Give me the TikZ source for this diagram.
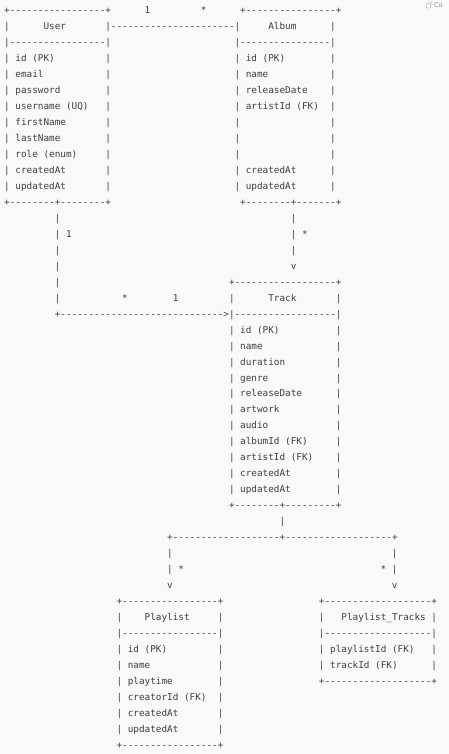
\documentclass[tikz,border=0pt]{standalone}
\usepackage{fontspec}
\setmonofont{DejaVu Sans Mono}
\setsansfont{DejaVu Sans}
\definecolor{ink}{HTML}{3E3E3E}
\definecolor{paper}{HTML}{F9F9F9}
\definecolor{faint}{HTML}{8A8A8A}

% a run of n hyphens
\ExplSyntaxOn
\cs_new:Npn \dashrun #1 { \prg_replicate:nn {#1} {-} }
\ExplSyntaxOff

% character grid: cell width and line height (pt)
\newcommand\cw{5.62}
\newcommand\lh{15.97}
% \at{row}{column}{text}
\newcommand\at[3]{\node[chars] (t#1-#2) at ({4.2+#2*\cw},{13.7+#1*\lh}) {#3};}

\begin{document}
\begin{tikzpicture}[x=1pt,y=-1pt,
  chars/.style={inner sep=0pt, outer sep=0pt, anchor=base west,
    font=\ttfamily\fontsize{9.34}{11}\selectfont, text=ink}]
\fill[paper] (0,0) rectangle (449,754);
\useasboundingbox (0,0) rectangle (449,754);

% copy button in the corner
\node[inner sep=0pt, anchor=west, text=faint,
  font=\sffamily\fontsize{6.5}{7}\selectfont] (copy) at (434,5.5) {Co};
\draw[faint, line width=0.4pt, rounded corners=0.6pt] (426.5,3.5) rectangle (430.5,8);
\draw[faint, line width=0.4pt, rounded corners=0.6pt] (428,2) -- (432,2) -- (432,6.5);

% ---- User and Album ----
\at{0}{0}{+\dashrun{17}+}
\at{0}{25}{1}
\at{0}{35}{*}
\at{0}{42}{+\dashrun{16}+}
\at{1}{0}{|}
\at{1}{7}{User}
\at{1}{18}{|\dashrun{22}|}
\at{1}{47}{Album}
\at{1}{58}{|}
\at{2}{0}{|\dashrun{17}|}
\at{2}{41}{|\dashrun{16}|}
\foreach \r/\u/\a in {3/{id (PK)}/{id (PK)}, 4/email/name, 5/password/releaseDate,
    6/{username (UQ)}/{artistId (FK)}, 7/firstName/{}, 8/lastName/{},
    9/{role (enum)}/{}, 10/createdAt/createdAt, 11/updatedAt/updatedAt}{
  \at{\r}{0}{|}
  \at{\r}{2}{\u}
  \at{\r}{18}{|}
  \at{\r}{41}{|}
  \at{\r}{43}{\a}
  \at{\r}{58}{|}
}
\at{12}{0}{+\dashrun{8}+\dashrun{8}+}
\at{12}{42}{+\dashrun{8}+\dashrun{7}+}

% ---- links down to Track ----
\foreach \r in {13,...,18}{\at{\r}{9}{|}}
\at{14}{11}{1}
\foreach \r in {13,14,15}{\at{\r}{51}{|}}
\at{14}{53}{*}
\at{16}{51}{v}

% ---- Track ----
\at{17}{40}{+\dashrun{18}+}
\at{18}{21}{*}
\at{18}{30}{1}
\at{18}{40}{|}
\at{18}{47}{Track}
\at{18}{59}{|}
\at{19}{9}{+\dashrun{29}>|\dashrun{18}|}
\foreach \r/\f in {20/{id (PK)}, 21/name, 22/duration, 23/genre, 24/releaseDate,
    25/artwork, 26/audio, 27/{albumId (FK)}, 28/{artistId (FK)},
    29/createdAt, 30/updatedAt}{
  \at{\r}{40}{|}
  \at{\r}{42}{\f}
  \at{\r}{59}{|}
}
\at{31}{40}{+\dashrun{8}+\dashrun{9}+}
\at{32}{49}{|}
\at{33}{29}{+\dashrun{19}+\dashrun{19}+}
\at{34}{29}{|}
\at{34}{69}{|}
\at{35}{29}{|}
\at{35}{31}{*}
\at{35}{67}{*}
\at{35}{69}{|}
\at{36}{29}{v}
\at{36}{69}{v}

% ---- Playlist and Playlist_Tracks ----
\at{37}{20}{+\dashrun{17}+}
\at{37}{56}{+\dashrun{19}+}
\at{38}{20}{|}
\at{38}{25}{Playlist}
\at{38}{38}{|}
\at{38}{56}{|}
\at{38}{60}{Playlist\_Tracks}
\at{38}{76}{|}
\at{39}{20}{|\dashrun{17}|}
\at{39}{56}{|\dashrun{19}|}
\foreach \r/\f in {40/{id (PK)}, 41/name, 42/playtime, 43/{creatorId (FK)},
    44/createdAt, 45/updatedAt}{
  \at{\r}{20}{|}
  \at{\r}{22}{\f}
  \at{\r}{38}{|}
}
\foreach \r/\f in {40/{playlistId (FK)}, 41/{trackId (FK)}}{
  \at{\r}{56}{|}
  \at{\r}{58}{\f}
  \at{\r}{76}{|}
}
\at{42}{56}{+\dashrun{19}+}
\at{46}{20}{+\dashrun{17}+}
\end{tikzpicture}
\end{document}
